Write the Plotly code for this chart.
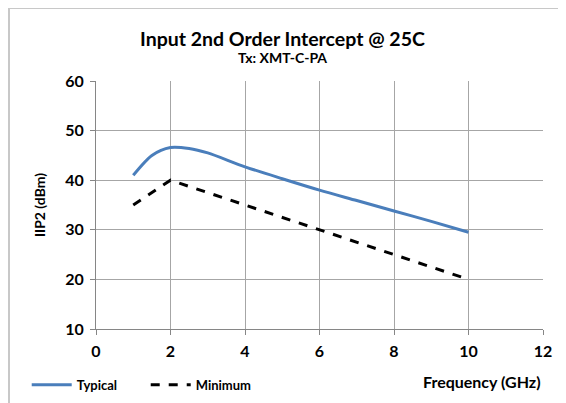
import plotly.graph_objects as go

typ_x = [1, 1.5, 2, 2.5, 3, 4, 5, 6, 7, 8, 9, 10]
typ_y = [41, 45.0, 46.6, 46.4, 45.5, 42.7, 40.3, 38.0, 35.9, 33.8, 31.7, 29.5]
min_x = [1, 2, 10]
min_y = [35, 40, 20]

x_ticks = [0, 2, 4, 6, 8, 10, 12]
y_ticks = [10, 20, 30, 40, 50, 60]

FONT = "Lato"

fig = go.Figure()
fig.add_trace(go.Scatter(x=typ_x, y=typ_y, mode="lines", name="<b>Typical</b>",
                         line=dict(color="#4a7ebb", width=3, shape="spline", smoothing=0.8)))
fig.add_trace(go.Scatter(x=min_x, y=min_y, mode="lines", name="<b>Minimum</b>",
                         line=dict(color="black", width=3, dash="dash")))

fig.update_layout(
    width=558, height=395,
    margin=dict(l=88, r=23, t=73, b=74, autoexpand=False),
    paper_bgcolor="white", plot_bgcolor="white",
    font=dict(family=FONT, color="black"),
    showlegend=True,
    legend=dict(orientation="h", x=-0.155, y=-0.165, xanchor="left", yanchor="top",
                font=dict(size=13, family=FONT, color="black"),
                itemwidth=40, entrywidth=64, entrywidthmode="pixels",
                bgcolor="rgba(0,0,0,0)"),
    xaxis=dict(range=[0, 12], tickvals=x_ticks, showgrid=True, gridcolor="#a6a6a6",
               gridwidth=1, showline=True, linecolor="#868686", ticks="outside",
               ticklen=5, tickcolor="#868686", zeroline=False, automargin=False,
               ticklabelstandoff=3,
               tickfont=dict(size=16, family=FONT, color="black", weight="bold")),
    yaxis=dict(range=[10, 60], tickvals=y_ticks, showgrid=True, gridcolor="#a6a6a6",
               gridwidth=1, showline=True, linecolor="#868686", ticks="outside",
               ticklen=5, tickcolor="#868686", zeroline=False, automargin=False,
               ticklabelstandoff=3,
               tickfont=dict(size=16, family=FONT, color="black", weight="bold"),
               title=dict(text="IIP2 (dBm)", font=dict(size=14, family=FONT, weight="bold"),
                          standoff=16)),
    annotations=[
        dict(text="<b>Input 2nd Order Intercept @ 25C</b>", xref="paper", yref="paper",
             x=0.418, y=1.173, xanchor="center", yanchor="middle", showarrow=False,
             font=dict(size=19.5, family=FONT)),
        dict(text="<b>Tx: XMT-C-PA</b>", xref="paper", yref="paper",
             x=0.418, y=1.093, xanchor="center", yanchor="middle", showarrow=False,
             font=dict(size=14, family=FONT)),
        dict(text="<b>Frequency (GHz)</b>", xref="paper", yref="paper",
             x=1.0, y=-0.21, xanchor="right", yanchor="middle", showarrow=False,
             font=dict(size=16, family=FONT)),
    ],
    shapes=[dict(type="rect", xref="paper", yref="paper",
                 x0=(9 - 96) / 447, x1=(580 - 96) / 447,
                 y0=(329 - 420) / 248, y1=(329 - 8) / 248,
                 line=dict(color="#c8c8c8", width=2), fillcolor="rgba(0,0,0,0)",
                 layer="below")],
)

fig.write_html("out.html")
